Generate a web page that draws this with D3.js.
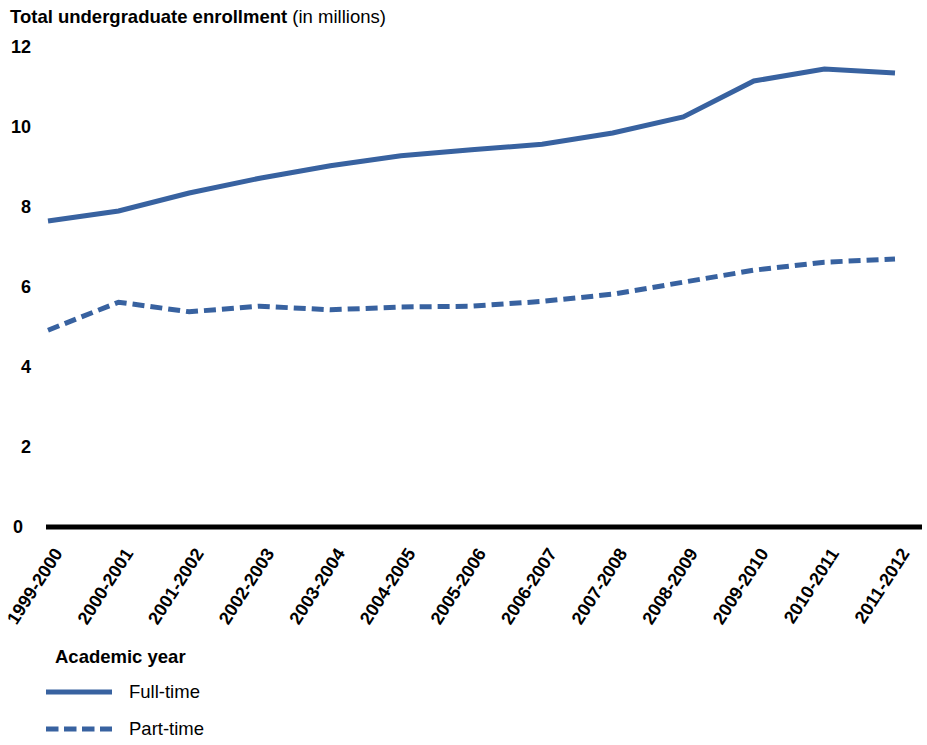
<!DOCTYPE html>
<meta charset="utf-8">
<script src="https://d3js.org/d3.v7.min.js"></script>
<style>
  body { margin: 0; background: #fff; }
  text { font-family: "Liberation Sans", Arial, sans-serif; }
</style>
<div id="chart"></div>
<script>
  // academic years and enrollment (millions)
  var years = ["1999-2000", "2000-2001", "2001-2002", "2002-2003", "2003-2004", "2004-2005",
               "2005-2006", "2006-2007", "2007-2008", "2008-2009", "2009-2010", "2010-2011", "2011-2012"]
  var fullTime = [7.65, 7.9, 8.35, 8.72, 9.03, 9.28, 9.43, 9.57, 9.85, 10.25, 11.15, 11.45, 11.35]
  var partTime = [4.92, 5.62, 5.38, 5.52, 5.43, 5.5, 5.52, 5.64, 5.82, 6.12, 6.42, 6.62, 6.7]
  var yTicks = [0, 2, 4, 6, 8, 10, 12]

  var width = 927, height = 745
  var blue = "#3862a0"

  var svg = d3.select("#chart").append("svg")
    .attr("width", width)
    .attr("height", height)

  var x = d3.scalePoint().domain(years).range([48, 895])
  var y = d3.scaleLinear().domain([0, 12]).range([527, 47])

  // title
  var title = svg.append("text").attr("x", 10).attr("y", 23).style("font-size", "18.5px")
  title.append("tspan").style("font-weight", "bold").text("Total undergraduate enrollment")
  title.append("tspan").text(" (in millions)")

  // y tick labels (the 0 sits a bit further left in the original)
  svg.selectAll(".ylab")
    .data(yTicks)
    .enter().append("text")
      .attr("x", function(d) { return d === 0 ? 23 : 31 })
      .attr("y", function(d) { return y(d) })
      .attr("dy", "0.35em")
      .attr("text-anchor", "end")
      .style("font-size", "18px")
      .style("font-weight", "bold")
      .text(function(d) { return d })

  // baseline
  svg.append("line")
    .attr("x1", 46).attr("x2", 922)
    .attr("y1", y(0)).attr("y2", y(0))
    .attr("stroke", "#000")
    .attr("stroke-width", 5)

  // x labels
  svg.selectAll(".xlab")
    .data(years)
    .enter().append("text")
      .attr("transform", function(d) { return "translate(" + (x(d) + 10) + ",550) rotate(-57)" })
      .attr("dy", "0.35em")
      .attr("text-anchor", "end")
      .style("font-size", "18px")
      .style("font-weight", "bold")
      .text(function(d) { return d })

  var line = d3.line()
    .x(function(d, i) { return x(years[i]) })
    .y(function(d) { return y(d) })

  svg.append("path")
    .datum(fullTime)
    .attr("d", line)
    .attr("fill", "none")
    .attr("stroke", blue)
    .attr("stroke-width", 5)

  svg.append("path")
    .datum(partTime)
    .attr("d", line)
    .attr("fill", "none")
    .attr("stroke", blue)
    .attr("stroke-width", 5)
    .attr("stroke-dasharray", "12,6")

  // legend
  svg.append("text")
    .attr("x", 55).attr("y", 663)
    .style("font-size", "18.5px")
    .style("font-weight", "bold")
    .text("Academic year")

  var legend = [{ name: "Full-time", dash: null, y: 692 }, { name: "Part-time", dash: "12.5,5.5", y: 729 }]
  var lg = svg.selectAll(".leg").data(legend).enter().append("g")
  lg.append("line")
    .attr("x1", 46).attr("x2", 112)
    .attr("y1", function(d) { return d.y }).attr("y2", function(d) { return d.y })
    .attr("stroke", blue)
    .attr("stroke-width", 5)
    .attr("stroke-dasharray", function(d) { return d.dash })
  lg.append("text")
    .attr("x", 129)
    .attr("y", function(d) { return d.y })
    .attr("dy", "0.35em")
    .style("font-size", "18.5px")
    .text(function(d) { return d.name })
</script>
